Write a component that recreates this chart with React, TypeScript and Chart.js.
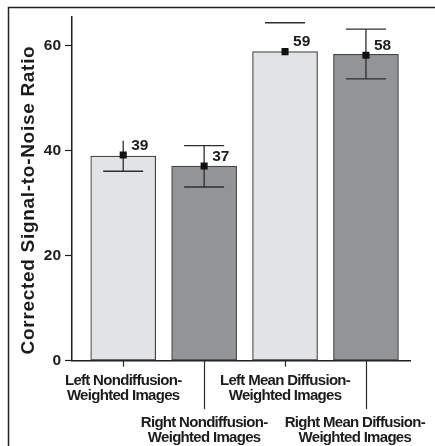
import React, { useEffect, useRef } from 'react';
import { Chart, registerables } from 'chart.js';

Chart.register(...registerables);

// ---- data ----
const categories: string[][] = [
  ['Left Nondiffusion-', 'Weighted Images'],
  ['Right Nondiffusion-', 'Weighted Images'],
  ['Left Mean Diffusion-', 'Weighted Images'],
  ['Right Mean Diffusion-', 'Weighted Images'],
];
const barValues = [39.0, 37.1, 58.9, 58.4];
const meanMarkers = [39.2, 37.1, 58.9, 58.2];
const errUpper = [41.9, 41.0, 64.4, 63.2];
const errLower = [36.1, 33.1, 58.9, 53.7];
const upperCap = [false, true, true, true];
const lowerCap = [true, true, false, true];
const drawStem = [true, true, false, true];
const barColors = ['#e2e3e5', '#939496', '#e2e3e5', '#939496'];
const yTickStep = 20;
const yMin = 0;
const yMax = 65.5;
const yTitle = 'Corrected Signal-to-Noise Ratio';

const FONT = '"Liberation Sans", Arial, Helvetica, sans-serif';
const INK = '#1c1c1c';

const overlay = {
  id: 'overlay',
  afterDatasetDraw(chart: any, args: any) {
    if (args.index !== 0) return;
    const { ctx, scales } = chart;
    const x = scales.x, y = scales.y;
    ctx.save();
    ctx.strokeStyle = '#2e2e2e';
    ctx.lineWidth = 1.3;
    barValues.forEach((_, i) => {
      const cx = x.getPixelForValue(i);
      const yu = y.getPixelForValue(errUpper[i]);
      const yl = y.getPixelForValue(errLower[i]);
      ctx.beginPath();
      if (drawStem[i]) { ctx.moveTo(cx, yu); ctx.lineTo(cx, yl); }
      if (upperCap[i]) { ctx.moveTo(cx - 20, yu); ctx.lineTo(cx + 20, yu); }
      if (lowerCap[i]) { ctx.moveTo(cx - 20, yl); ctx.lineTo(cx + 20, yl); }
      ctx.stroke();
    });
    ctx.restore();
  },
  afterDraw(chart: any) {
    const { ctx, scales, chartArea, width } = chart;
    const x = scales.x, y = scales.y;
    ctx.save();
    // value labels
    ctx.fillStyle = INK;
    ctx.font = `bold 15.5px ${FONT}`;
    ctx.textAlign = 'left';
    ctx.textBaseline = 'middle';
    meanMarkers.forEach((v, i) => {
      const cx = x.getPixelForValue(i);
      const py = y.getPixelForValue(v);
      ctx.fillText(String(Math.round(barValues[i])), cx + 8, py - 9.5);
    });
    // x tick lines
    ctx.strokeStyle = '#2a2a2a';
    ctx.lineWidth = 1.2;
    const base = chartArea.bottom;
    categories.forEach((_, i) => {
      const cx = Math.round(x.getPixelForValue(i)) + 0.5;
      ctx.beginPath();
      ctx.moveTo(cx, base);
      ctx.lineTo(cx, i % 2 === 0 ? base + 6 : base + 48.5);
      ctx.stroke();
    });
    // x labels
    ctx.font = `bold 15px ${FONT}`;
    (ctx as any).letterSpacing = '-0.7px';
    ctx.textAlign = 'center';
    ctx.textBaseline = 'alphabetic';
    categories.forEach((lines, i) => {
      let cx = x.getPixelForValue(i);
      const maxW = Math.max(...lines.map((l) => ctx.measureText(l).width));
      const limit = width - 10;
      if (cx + maxW / 2 > limit) cx = limit - maxW / 2;
      const y0 = i % 2 === 0 ? base + 24.5 : base + 66.5;
      lines.forEach((l, k) => ctx.fillText(l, cx, y0 + k * 14.5));
    });
    // y title
    ctx.font = `bold 19px ${FONT}`;
    (ctx as any).letterSpacing = '0.7px';
    ctx.translate(33.5, 200);
    ctx.rotate(-Math.PI / 2);
    ctx.textAlign = 'center';
    ctx.textBaseline = 'alphabetic';
    ctx.fillText(yTitle, 0, 0);
    ctx.restore();
    // frame
    ctx.save();
    ctx.strokeStyle = '#222';
    ctx.lineWidth = 1.5;
    ctx.beginPath();
    ctx.moveTo(8.5, chart.height);
    ctx.lineTo(8.5, 7.5);
    ctx.lineTo(width, 7.5);
    ctx.stroke();
    ctx.restore();
  },
};

export default function App() {
  const ref = useRef<HTMLCanvasElement | null>(null);
  useEffect(() => {
    if (!ref.current) return;
    const chart = new Chart(ref.current, {
      type: 'bar',
      data: {
        datasets: [
          {
            type: 'bar',
            data: barValues.map((v, i) => ({ x: i, y: v })),
            backgroundColor: barColors,
            borderColor: '#444',
            borderWidth: 1.2,
            borderSkipped: false,
            barThickness: 65,
            order: 2,
          } as any,
          {
            type: 'scatter',
            data: meanMarkers.map((v, i) => ({ x: i, y: v })),
            pointStyle: 'rect',
            pointRadius: 5,
            pointBackgroundColor: '#111',
            pointBorderWidth: 0,
            order: 1,
          } as any,
        ],
      },
      options: {
        animation: false,
        responsive: false,
        events: [],
        layout: { padding: { left: 36, top: 17, right: 24.3, bottom: 85.3 } },
        plugins: { legend: { display: false }, tooltip: { enabled: false }, title: { display: false } },
        scales: {
          x: {
            type: 'linear',
            min: -0.633,
            max: 3.553,
            offset: false,
            afterFit: (s: any) => { s.height = 0; },
            ticks: { display: false },
            grid: { display: false },
            border: { display: true, color: '#1e1e1e', width: 1.5 },
          },
          y: {
            type: 'linear',
            min: yMin,
            max: yMax,
            afterFit: (s: any) => { s.width = 36; },
            ticks: {
              stepSize: yTickStep,
              includeBounds: false,
              padding: 4,
              color: INK,
              font: { family: FONT, size: 15.5, weight: 'bold' },
            },
            grid: {
              display: true,
              drawOnChartArea: false,
              drawTicks: true,
              tickLength: 7,
              tickColor: '#1e1e1e',
              tickWidth: 1.2,
              color: '#1e1e1e',
            },
            border: { display: true, color: '#1e1e1e', width: 1.5 },
          },
        },
      },
      plugins: [overlay],
    });
    return () => chart.destroy();
  }, []);
  return (
    <div style={{ position: 'absolute', left: 0, top: 0, width: 435, height: 446, background: '#fff' }}>
      <canvas ref={ref} width={435} height={446} style={{ display: 'block' }} />
    </div>
  );
}
